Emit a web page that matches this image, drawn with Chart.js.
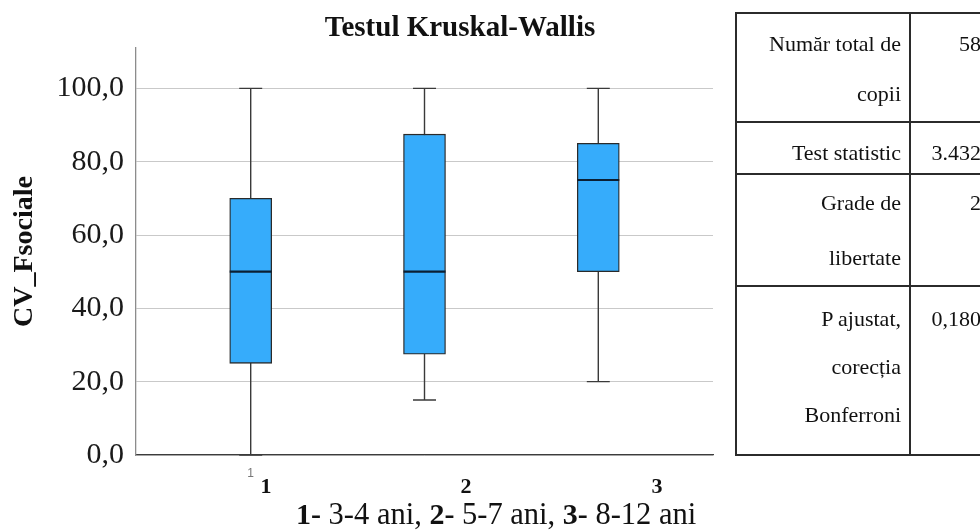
<!DOCTYPE html>
<html>
<head>
<meta charset="utf-8">
<script src="https://cdn.jsdelivr.net/npm/chart.js@4"></script>
<style>
  html, body { margin: 0; padding: 0; background: #fff; overflow: hidden; }
  #wrap { position: relative; width: 980px; height: 530px; overflow: hidden; }
  #chart { position: absolute; left: 0; top: 0; }
  #stats {
    position: absolute; left: 735px; top: 12px;
    width: max-content;
    border-collapse: collapse;
    font-family: 'Liberation Serif', 'Times New Roman', serif;
    font-size: 22px; color: #111;
  }
  #stats td {
    border: 2px solid #2b2b2b;
    text-align: right; vertical-align: top;
    padding: 0 8px 0 0; white-space: nowrap;
  }
  #stats td.lbl { width: 164px; }
  #stats td.val { width: 70px; padding-right: 12px; }
</style>
</head>
<body>
<div id="wrap">
  <canvas id="chart" width="980" height="530"></canvas>
  <table id="stats"></table>
</div>
<script>
// Box plot data per age group
const groups = [1, 2, 3];
const whiskerLow = [0, 15, 20];
const q1 = [25, 27.5, 50];
const median = [50, 50, 75];
const q3 = [70, 87.5, 85];
const whiskerHigh = [100, 100, 100];
const yTicks = [0, 20, 40, 60, 80, 100];
const groupLabels = ['1', '2', '3'];
const captionParts = [['1-', ' 3-4 ani, '], ['2-', ' 5-7 ani, '], ['3-', ' 8-12 ani']];

// Kruskal-Wallis summary table
const statLabels = [['Număr total de', 'copii'], ['Test statistic'], ['Grade de', 'libertate'], ['P ajustat,', 'corecția', 'Bonferroni']];
const statValues = ['58', '3.432', '2', '0,180'];
const rowHeights = [109, 52, 111, 169];
const rowLineHeights = [50, 36, 55, 48];
const rowPadTop = [5, 12, 0, 8];

const SERIF = "'Liberation Serif', 'Times New Roman', serif";

// build the table
const table = document.getElementById('stats');
statLabels.forEach((lines, i) => {
    const tr = document.createElement('tr');
    tr.style.height = rowHeights[i] + 'px';
    const a = document.createElement('td');
    a.className = 'lbl';
    a.innerHTML = lines.join('<br>');
    const b = document.createElement('td');
    b.className = 'val';
    b.textContent = statValues[i];
    [a, b].forEach(td => {
        td.style.lineHeight = rowLineHeights[i] + 'px';
        td.style.paddingTop = rowPadTop[i] + 'px';
        td.style.height = (rowHeights[i] - rowPadTop[i] - 2) + 'px';
        tr.appendChild(td);
    });
    table.appendChild(tr);
});

const BOX_W = 42;
const CAP_W = 23;

// whiskers behind the boxes, medians on top, plus the free text
const boxExtras = {
    id: 'boxExtras',
    beforeDatasetsDraw(chart) {
        const { ctx, scales: { x, y } } = chart;
        ctx.save();
        ctx.strokeStyle = '#3a3a3a';
        ctx.lineWidth = 1.4;
        groups.forEach((g, i) => {
            const px = x.getPixelForValue(g);
            const yl = y.getPixelForValue(whiskerLow[i]);
            const yh = y.getPixelForValue(whiskerHigh[i]);
            ctx.beginPath();
            ctx.moveTo(px, yl); ctx.lineTo(px, yh);
            ctx.moveTo(px - CAP_W / 2, yl); ctx.lineTo(px + CAP_W / 2, yl);
            ctx.moveTo(px - CAP_W / 2, yh); ctx.lineTo(px + CAP_W / 2, yh);
            ctx.stroke();
        });
        ctx.restore();
    },
    afterDatasetsDraw(chart) {
        const { ctx, scales: { x, y } } = chart;
        ctx.save();
        ctx.strokeStyle = '#0b1f33';
        ctx.lineWidth = 2.2;
        groups.forEach((g, i) => {
            const px = x.getPixelForValue(g);
            const py = y.getPixelForValue(median[i]);
            ctx.beginPath();
            ctx.moveTo(px - BOX_W / 2, py); ctx.lineTo(px + BOX_W / 2, py);
            ctx.stroke();
        });
        ctx.restore();
    },
    afterDraw(chart) {
        const ctx = chart.ctx;
        ctx.save();
        ctx.fillStyle = '#111';
        ctx.textBaseline = 'middle';
        ctx.textAlign = 'center';
        ctx.font = 'bold 29px ' + SERIF;
        ctx.fillText('Testul Kruskal-Wallis', 460, 29);

        ctx.font = 'bold 22px ' + SERIF;
        const lblX = [266, 466, 657];
        groupLabels.forEach((t, i) => ctx.fillText(t, lblX[i], 487));

        // caption: bold group numbers, regular age ranges
        ctx.textAlign = 'left';
        let cx = 296;
        captionParts.forEach(([b, r]) => {
            ctx.font = 'bold 30px ' + SERIF;
            ctx.fillText(b, cx, 516);
            cx += ctx.measureText(b).width;
            ctx.font = '30.5px ' + SERIF;
            ctx.fillText(r, cx, 516);
            cx += ctx.measureText(r).width;
        });
        ctx.restore();
    }
};

new Chart(document.getElementById('chart'), {
    type: 'bar',
    data: {
        datasets: [{
            data: groups.map((g, i) => ({ x: g, y: [q1[i], q3[i]] })),
            backgroundColor: '#36acfb',
            borderColor: '#2a2a2a',
            borderWidth: 1.3,
            borderSkipped: false,
            barThickness: BOX_W
        }]
    },
    options: {
        responsive: false,
        animation: false,
        layout: { padding: { top: 48, right: 267, left: 0, bottom: 0 } },
        plugins: {
            legend: { display: false },
            tooltip: { enabled: false },
            title: { display: false }
        },
        scales: {
            x: {
                type: 'linear',
                offset: false,
                min: 0.34,
                max: 3.66,
                afterBuildTicks: s => { s.ticks = [{ value: 1 }]; },
                afterFit: s => { s.height = 75; },
                grid: { display: false, drawTicks: false, offset: false },
                border: { display: true, color: '#3c3c3c', width: 1.3 },
                ticks: {
                    padding: 11,
                    color: '#777',
                    font: { family: 'Arial, sans-serif', size: 12 },
                    callback: v => String(v)
                }
            },
            y: {
                min: 0,
                max: 111,
                afterBuildTicks: s => { s.ticks = yTicks.map(v => ({ value: v })); },
                afterFit: s => { s.width = 136; },
                grid: { color: '#c9c9c9', lineWidth: 1, drawTicks: false },
                border: { display: true, color: '#8c8c8c', width: 1.3 },
                ticks: {
                    padding: 12,
                    color: '#1a1a1a',
                    font: { family: SERIF, size: 30 },
                    callback: v => v.toFixed(1).replace('.', ',')
                },
                title: {
                    display: true,
                    text: 'CV_Fsociale',
                    color: '#111',
                    font: { family: SERIF, size: 28, weight: 'bold' },
                    padding: { top: 8, bottom: 0 }
                }
            }
        }
    },
    plugins: [boxExtras]
});
</script>
</body>
</html>
